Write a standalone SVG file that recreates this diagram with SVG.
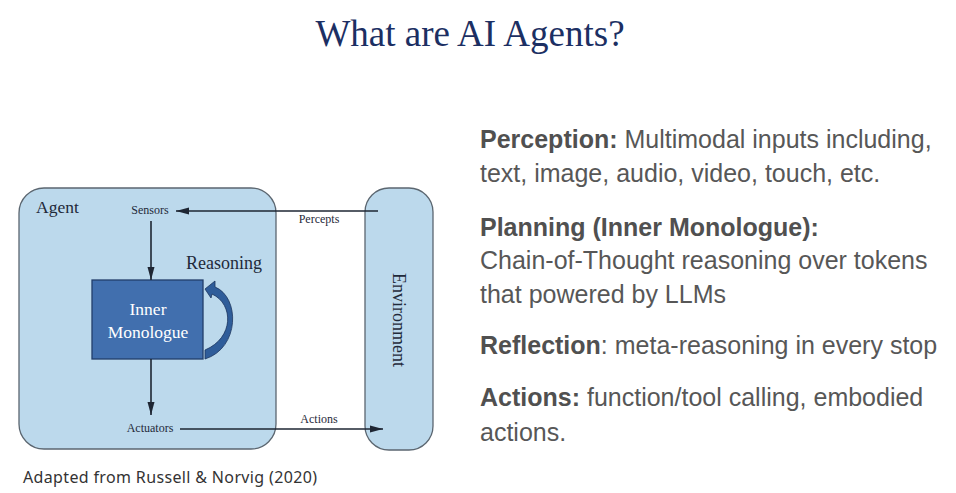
<svg xmlns="http://www.w3.org/2000/svg" width="956" height="493" viewBox="0 0 956 493">
<defs>
<style>
.serif{font-family:"Liberation Serif","Times New Roman",serif;fill:#1f2a3a}
.box{fill:#bcd9ec;stroke:#5b6670;stroke-width:1.3}
.conn{stroke:#1e2633;stroke-width:1.6;fill:none}
.body{font-family:"Liberation Sans",Arial,sans-serif;font-size:25px;fill:#575757}
.b{font-weight:bold;fill:#505050}
</style>
<marker id="ah" markerUnits="userSpaceOnUse" markerWidth="14" markerHeight="8" refX="13" refY="4" orient="auto">
<path d="M0,0.5 L13,4 L0,7.5 Z" fill="#1e2633"/>
</marker>
</defs>
<rect width="956" height="493" fill="#ffffff"/>
<text id="title" x="470" y="46" text-anchor="middle" font-family="Liberation Serif, Times New Roman, serif" font-size="37" fill="#1c2f63">What are AI Agents?</text>

<g id="agent">
<rect class="box" x="19" y="188" width="257" height="261" rx="25" ry="25"/>
<text class="serif" x="36" y="213" font-size="17.5">Agent</text>
</g>
<g id="environment">
<rect class="box" x="365" y="188" width="68" height="262" rx="24" ry="24"/>
<text class="serif" transform="translate(393,320) rotate(90)" text-anchor="middle" font-size="18">Environment</text>
</g>
<g id="sensors"><text class="serif" x="150" y="214" text-anchor="middle" font-size="12">Sensors</text></g>
<g id="actuators"><text class="serif" x="150" y="432" text-anchor="middle" font-size="12">Actuators</text></g>
<g id="inner">
<rect x="92" y="280" width="111" height="79" fill="#416fae" stroke="#223e6a" stroke-width="1.3"/>
<text x="148" y="315" text-anchor="middle" font-family="Liberation Serif, Times New Roman, serif" font-size="17.5" fill="#ffffff">Inner</text>
<text x="148" y="338" text-anchor="middle" font-family="Liberation Serif, Times New Roman, serif" font-size="17.5" fill="#ffffff">Monologue</text>
</g>

<g id="connectors">
<line class="conn" x1="378" y1="211" x2="176" y2="211" marker-end="url(#ah)"/>
<text class="serif" x="319" y="223" text-anchor="middle" font-size="12">Percepts</text>
<line class="conn" x1="151" y1="221" x2="151" y2="280" marker-end="url(#ah)"/>
<line class="conn" x1="151" y1="359" x2="151" y2="415" marker-end="url(#ah)"/>
<line class="conn" x1="180" y1="429" x2="383" y2="429" marker-end="url(#ah)"/>
<text class="serif" x="319" y="423" text-anchor="middle" font-size="12">Actions</text>
<path d="M205,289 L215,281 L215,287 C240,297 240,348 205,359 L205,350 C234,338 234,304 212,294 L211,298 Z" fill="#2f5d9a" stroke="#1c355e" stroke-width="0.8"/>
<text class="serif" x="224" y="269" text-anchor="middle" font-size="18">Reasoning</text>
</g>

<g id="bullets">
<text class="body" x="480" y="148"><tspan class="b">Perception:</tspan> Multimodal inputs including,</text>
<text class="body" x="480" y="182">text, image, audio, video, touch, etc.</text>
<text class="body" x="480" y="236"><tspan class="b">Planning (Inner Monologue):</tspan></text>
<text class="body" x="480" y="269">Chain-of-Thought reasoning over tokens</text>
<text class="body" x="480" y="303">that powered by LLMs</text>
<text class="body" x="480" y="354"><tspan class="b">Reflection</tspan>: meta-reasoning in every stop</text>
<text class="body" x="480" y="406"><tspan class="b">Actions:</tspan> function/tool calling, embodied</text>
<text class="body" x="480" y="441">actions.</text>
</g>
<text id="footer" x="23" y="483" font-family="Noto Sans, Lato, sans-serif" font-size="16" textLength="294" lengthAdjust="spacing" fill="#333333">Adapted from Russell &amp; Norvig (2020)</text>
</svg>
